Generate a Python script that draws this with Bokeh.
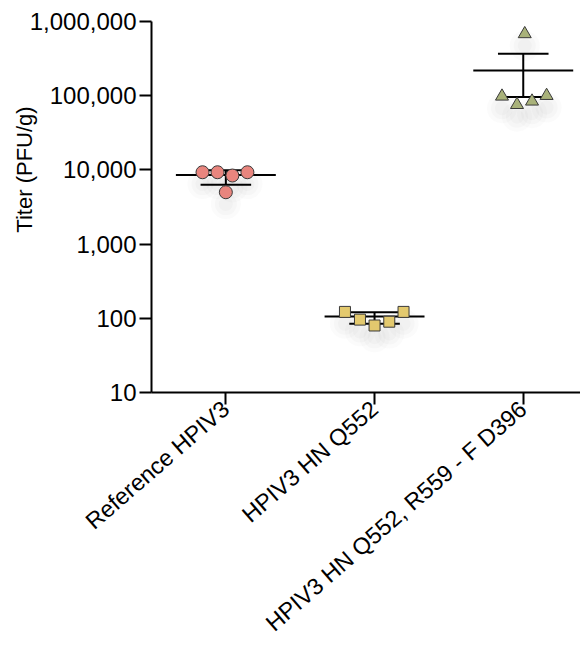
import numpy as np
from bokeh.plotting import figure
from bokeh.models import FixedTicker, ColumnDataSource, Label, Range1d
from bokeh.embed import file_html
from bokeh.resources import INLINE

# ---- data ----
categories = ["Reference HPIV3", "HPIV3 HN Q552", "HPIV3 HN Q552, R559 - F D396"]
ref_values = [9300, 9300, 8400, 9300, 5000]
q552_values = [122, 96, 80, 90, 122]
q552_r559_values = [680000, 98000, 75500, 84000, 100000]
ref_jitter = [-0.157, -0.056, 0.044, 0.145, 0.0]
q552_jitter = [-0.199, -0.098, 0.0, 0.099, 0.195]
q552_r559_jitter = [0.01, -0.143, -0.042, 0.059, 0.157]
group_means = [8520, 105.5, 219000]
group_err_low = [6330, 84.2, 95700]
group_err_high = [9900, 120.5, 367000]
y_ticks = [10, 100, 1000, 10000, 100000, 1000000]
y_tick_labels = ["10", "100", "1,000", "10,000", "100,000", "1,000,000"]
y_title = "Titer (PFU/g)"

FONT = "Liberation Sans"
cat_pos = [0.5, 1.5, 2.5]

p = figure(width=580, height=650, y_axis_type="log",
           x_range=Range1d(0, 2.885), y_range=Range1d(10, 1000000),
           output_backend="svg", toolbar_location=None,
           min_border_left=151, min_border_right=0,
           min_border_top=21, min_border_bottom=258)
p.outline_line_color = None
p.grid.visible = False
p.background_fill_color = "white"
p.border_fill_color = "white"

# ---- soft shadows under the points ----
shadow_factor = 10 ** (-0.16)
groups = [(ref_values, ref_jitter), (q552_values, q552_jitter), (q552_r559_values, q552_r559_jitter)]
for gi, (vals, jit) in enumerate(groups):
    xs = [cat_pos[gi] + j for j in jit]
    ys = [v * shadow_factor for v in vals]
    for s, a in [(30, 0.035), (22, 0.04), (14, 0.045)]:
        p.scatter(xs, ys, size=s, marker="circle", fill_color="#808080",
                  fill_alpha=a, line_color=None)

# ---- mean and error bars ----
mean_hw = 0.336
cap_hw = 0.17
src = ColumnDataSource(dict(
    x=cat_pos,
    m=group_means, lo=group_err_low, hi=group_err_high,
    xm0=[c - mean_hw for c in cat_pos], xm1=[c + mean_hw for c in cat_pos],
    xc0=[c - cap_hw for c in cat_pos], xc1=[c + cap_hw for c in cat_pos],
))
p.segment(x0="x", y0="lo", x1="x", y1="hi", source=src, line_color="black", line_width=2)
p.segment(x0="xm0", y0="m", x1="xm1", y1="m", source=src, line_color="black", line_width=2)
p.segment(x0="xc0", y0="lo", x1="xc1", y1="lo", source=src, line_color="black", line_width=2)
p.segment(x0="xc0", y0="hi", x1="xc1", y1="hi", source=src, line_color="black", line_width=2)

# ---- points ----
styles = [("circle", 13, "#E8857E"), ("square", 11, "#E3C96E"), ("triangle", 13, "#A9B27A")]
for gi, (vals, jit) in enumerate(groups):
    marker, size, color = styles[gi]
    xs = [cat_pos[gi] + j for j in jit]
    p.scatter(xs, vals, marker=marker, size=size, fill_color=color,
              line_color="#3a3a3a", line_width=1)

# ---- axes ----
p.yaxis.ticker = FixedTicker(ticks=y_ticks, minor_ticks=[])
p.yaxis.major_label_overrides = {t: l for t, l in zip(y_ticks, y_tick_labels)}
p.xaxis.ticker = FixedTicker(ticks=cat_pos, minor_ticks=[])
p.xaxis.major_label_overrides = {c: l for c, l in zip(cat_pos, categories)}
p.xaxis.major_label_orientation = np.deg2rad(41)

for ax in (p.xaxis[0], p.yaxis[0]):
    ax.axis_line_width = 2
    ax.axis_line_color = "black"
    ax.major_tick_line_width = 2
    ax.major_tick_line_color = "black"
    ax.major_tick_in = 0
    ax.major_tick_out = 12
    ax.minor_tick_line_color = None
    ax.major_label_text_font = FONT
    ax.major_label_text_color = "black"

p.yaxis.major_label_text_font_size = "24px"
p.yaxis.major_label_standoff = 3
p.xaxis.major_label_text_font_size = "23.3px"
p.xaxis.major_label_standoff = 1

# y-axis title (in the left side panel so it is not clipped)
p.add_layout(Label(x=0, y=y_ticks[0], text=y_title, angle=np.pi / 2,
                   x_units="data", y_units="data",
                   x_offset=-127, y_offset=223,
                   text_align="center", text_baseline="middle",
                   text_font=FONT, text_font_size="22px", text_color="black"),
             "left")

open("out.html", "w").write(file_html(p, INLINE))
